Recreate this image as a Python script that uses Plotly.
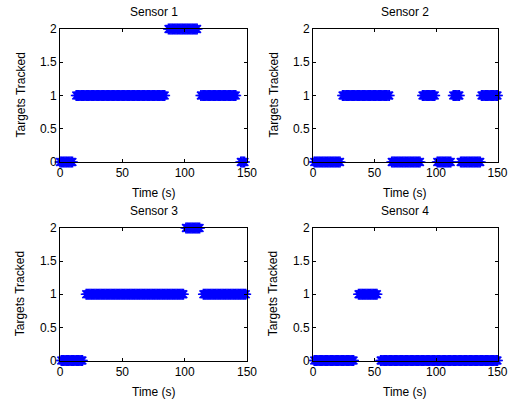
import numpy as np
import plotly.graph_objects as go

# Tracking history per sensor, stored as runs: start time, end time (s), targets tracked
s1_start = [0, 13, 87, 113, 145]
s1_end = [10, 84, 110, 141, 148]
s1_level = [0, 1, 2, 1, 0]

s2_start = [1, 24, 64, 89, 101, 114, 120, 137]
s2_end = [22, 62, 87, 99, 112, 119, 136, 150]
s2_level = [0, 1, 0, 1, 0, 1, 0, 1]

s3_start = [1, 21, 101, 115]
s3_end = [18, 99, 112, 149]
s3_level = [0, 1, 2, 1]

s4_start = [1, 37, 55]
s4_end = [33, 52, 150]
s4_level = [0, 1, 0]

sensor_names = ["Sensor 1", "Sensor 2", "Sensor 3", "Sensor 4"]
x_ticks = [0, 50, 100, 150]
y_ticks = [0, 0.5, 1, 1.5, 2]
y_tick_text = ["0", "0.5", "1", "1.5", "2"]
x_label = "Time (s)"
y_label = "Targets Tracked"

SAMPLE_DT = 1.0


def expand(starts, ends, levels):
    t, v = [], []
    for a, b, lv in zip(starts, ends, levels):
        seg = np.arange(a, b + SAMPLE_DT / 2, SAMPLE_DT)
        t.extend(seg.tolist())
        v.extend([lv] * len(seg))
    return t, v


series = [
    expand(s1_start, s1_end, s1_level),
    expand(s2_start, s2_end, s2_level),
    expand(s3_start, s3_end, s3_level),
    expand(s4_start, s4_end, s4_level),
]

W, H = 509, 402
FONT = "Liberation Sans, Arial, sans-serif"
FS = 12

# plot-area boxes in pixels: (left, right, top, bottom)
boxes = [
    (60, 247, 29, 162),
    (313, 497.5, 29, 162),
    (60, 247, 228, 360.5),
    (313, 497.5, 228, 360.5),
]

fig = go.Figure()
layout = dict(
    width=W, height=H,
    margin=dict(l=0, r=0, t=0, b=0),
    paper_bgcolor="white", plot_bgcolor="white",
    showlegend=False,
    font=dict(family=FONT, size=FS, color="black"),
    annotations=[],
)


def ann(text, px, py, angle=0):
    return dict(
        text=text, x=px / W, y=1 - py / H, xref="paper", yref="paper",
        showarrow=False, textangle=angle, xanchor="center", yanchor="middle",
        font=dict(family=FONT, size=FS, color="black"),
    )


for i, ((t, v), (l, r, top, bot)) in enumerate(zip(series, boxes)):
    n = "" if i == 0 else str(i + 1)
    fig.add_trace(go.Scatter(
        x=t, y=v, mode="markers",
        xaxis="x" + n, yaxis="y" + n,
        cliponaxis=False,
        marker=dict(symbol="asterisk-open", size=9, color="#0000ff",
                    line=dict(color="#0000ff", width=1.6)),
        hoverinfo="skip",
    ))
    axis_common = dict(
        showgrid=False, zeroline=False, showline=True, linecolor="black",
        linewidth=1, mirror="allticks", ticks="inside", ticklen=3,
        tickcolor="black", tickfont=dict(family=FONT, size=FS),
        layer="above traces", automargin=False, ticklabeloverflow="allow",
    )
    layout["xaxis" + n] = dict(
        axis_common, domain=[l / W, r / W], range=[0, 150],
        tickvals=x_ticks, anchor="y" + n,
    )
    layout["yaxis" + n] = dict(
        axis_common, domain=[1 - bot / H, 1 - top / H], range=[0, 2],
        tickvals=y_ticks, ticktext=y_tick_text, anchor="x" + n,
    )
    cx = (l + r) / 2
    layout["annotations"].append(ann(sensor_names[i], cx, top - 17))
    layout["annotations"].append(ann(x_label, cx, bot + 31))
    layout["annotations"].append(ann(y_label, l - 40, (top + bot) / 2, -90))

fig.update_layout(**layout)
fig.write_html("out.html")
